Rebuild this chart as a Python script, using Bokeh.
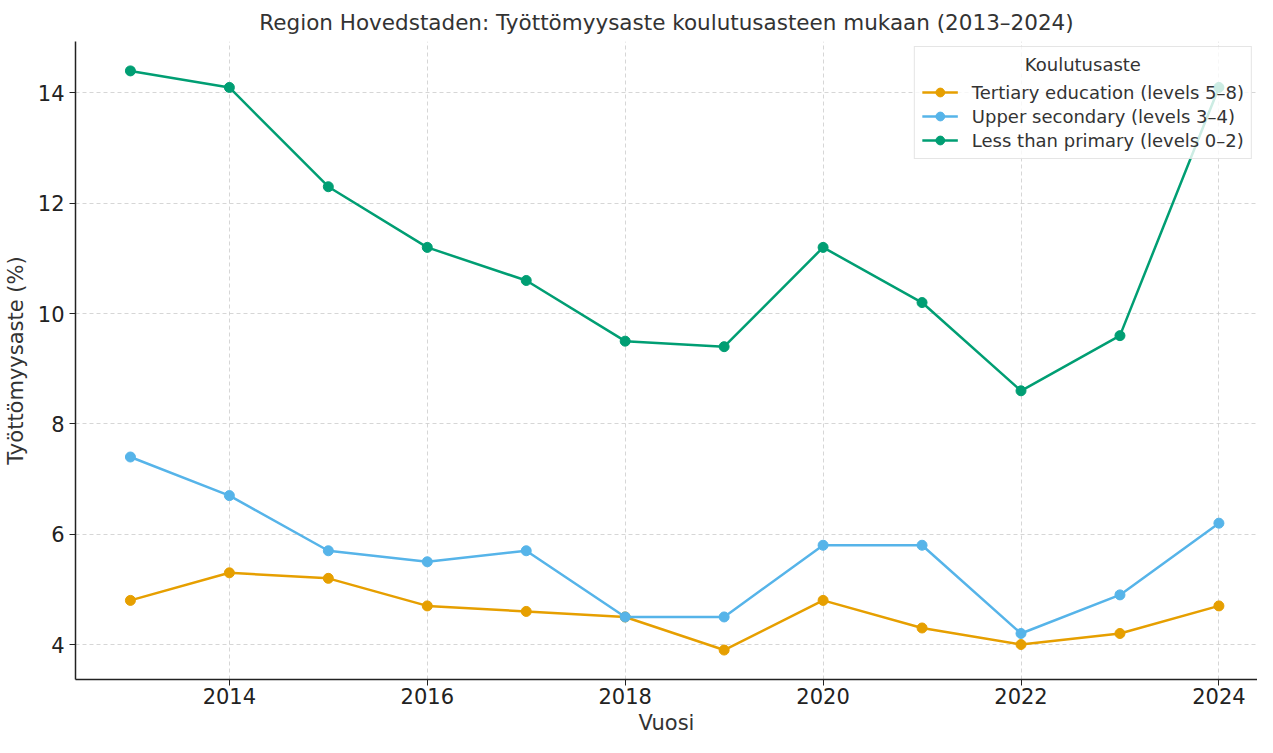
from bokeh.plotting import figure
from bokeh.models import FixedTicker, Legend, LegendItem, Range1d
from bokeh.embed import file_html
from bokeh.resources import INLINE

years = [2013, 2014, 2015, 2016, 2017, 2018, 2019, 2020, 2021, 2022, 2023, 2024]
tertiary = [4.8, 5.3, 5.2, 4.7, 4.6, 4.5, 3.9, 4.8, 4.3, 4.0, 4.2, 4.7]
upper_secondary = [7.4, 6.7, 5.7, 5.5, 5.7, 4.5, 4.5, 5.8, 5.8, 4.2, 4.9, 6.2]
less_primary = [14.4, 14.1, 12.3, 11.2, 10.6, 9.5, 9.4, 11.2, 10.2, 8.6, 9.6, 14.1]

series_names = ["Tertiary education (levels 5–8)", "Upper secondary (levels 3–4)", "Less than primary (levels 0–2)"]
series_values = [tertiary, upper_secondary, less_primary]
colors = ["#E69F00", "#56B4E9", "#009E73"]
x_ticks = [2014, 2016, 2018, 2020, 2022, 2024]
y_ticks = [4, 6, 8, 10, 12, 14]

FONT = "DejaVu Sans"
TXT = "#333333"

p = figure(width=1257, height=737, output_backend="svg", toolbar_location=None,
           x_range=Range1d(2012.445, 2024.39), y_range=Range1d(3.366, 14.933),
           min_border_left=65, min_border_right=0, min_border_top=34, min_border_bottom=40)

p.title.text = "Region Hovedstaden: Työttömyysaste koulutusasteen mukaan (2013–2024)"
p.title.align = "center"
p.title.text_font = FONT
p.title.text_font_size = "21.5px"
p.title.text_font_style = "normal"
p.title.text_color = TXT
p.title.standoff = 14

p.outline_line_color = None
for ax in (p.xaxis[0], p.yaxis[0]):
    ax.axis_line_color = "#222222"
    ax.axis_line_width = 1.5
    ax.major_tick_out = 6
    ax.major_tick_in = 0
    ax.minor_tick_line_color = None
    ax.major_tick_line_color = "#222222"
    ax.major_label_text_font = FONT
    ax.major_label_text_font_size = "21px"
    ax.major_label_text_color = "#222222"
    ax.axis_label_text_font = FONT
    ax.axis_label_text_font_size = "21px"
    ax.axis_label_text_font_style = "normal"
    ax.axis_label_text_color = TXT

p.xaxis.ticker = FixedTicker(ticks=x_ticks)
p.yaxis.ticker = FixedTicker(ticks=y_ticks)
p.xaxis.axis_label = "Vuosi"
p.yaxis.axis_label = "Työttömyysaste (%)"
p.xaxis.axis_label_standoff = 4
p.xaxis.major_label_standoff = 2
p.yaxis.axis_label_standoff = 7
p.yaxis.major_label_standoff = 5

p.xgrid.grid_line_color = "#cccccc"
p.ygrid.grid_line_color = "#cccccc"
p.xgrid.grid_line_dash = "4 3"
p.ygrid.grid_line_dash = "4 3"
p.xgrid.grid_line_width = 0.8
p.ygrid.grid_line_width = 0.8

items = []
for name, vals, c in zip(series_names, series_values, colors):
    l = p.line(years, vals, line_color=c, line_width=2.5)
    s = p.scatter(years, vals, size=10, fill_color=c, line_color=c)
    items.append(LegendItem(label=name, renderers=[l, s]))

legend = Legend(items=items, location="top_right")
legend.title = "\u00a0" * 18 + "Koulutusaste"
legend.title_text_font = FONT
legend.title_text_font_size = "18px"
legend.title_text_font_style = "normal"
legend.title_text_color = TXT
legend.label_text_font = FONT
legend.label_text_font_size = "18px"
legend.label_text_color = TXT
legend.label_height = 22
legend.glyph_height = 22
legend.border_line_color = "#cccccc"
legend.border_line_width = 1
legend.background_fill_alpha = 0.8
legend.glyph_width = 36
legend.label_standoff = 14
legend.spacing = 2
legend.padding = 7
legend.margin = 5
legend.title_standoff = 6
p.add_layout(legend)

open("out.html", "w").write(file_html(p, INLINE))
